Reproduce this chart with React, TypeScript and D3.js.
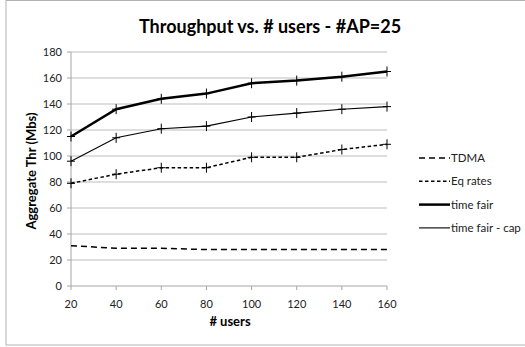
import React from "react";
import * as d3 from "d3";

const width = 525;
const height = 347;
const margin = { top: 52, left: 71, right: 138, bottom: 61 };

const users = [20, 40, 60, 80, 100, 120, 140, 160];
const yTicks = [0, 20, 40, 60, 80, 100, 120, 140, 160, 180];

const tdma = [31, 29, 29, 28, 28, 28, 28, 28];
const eqRates = [79, 86, 91, 91, 99, 99, 105, 109];
const timeFair = [115, 136, 144, 148, 156, 158, 161, 165];
const timeFairCap = [96, 114, 121, 123, 130, 133, 136, 138];

const series = [
  { name: "TDMA", values: tdma, width: 1.5, dash: "6 4", marks: false },
  { name: "Eq rates", values: eqRates, width: 1.5, dash: "3.5 2.5", marks: true },
  { name: "time fair", values: timeFair, width: 2.5, dash: null, marks: true },
  { name: "time fair - cap", values: timeFairCap, width: 1.1, dash: null, marks: true },
];

const font = "Lato, 'Open Sans', sans-serif";

export default function App() {
  const x = d3
    .scaleLinear()
    .domain([20, 160])
    .range([margin.left, width - margin.right]);
  const y = d3
    .scaleLinear()
    .domain([0, 180])
    .range([height - margin.bottom, margin.top]);

  const line = d3
    .line<number>()
    .x((d, i) => x(users[i]))
    .y((d) => y(d));

  return (
    <div style={{ position: "fixed", left: 0, top: 0 }}>
      <svg width={width} height={height} style={{ display: "block" }}>
        <rect x={0} y={0} width={width} height={height} fill="#fff" />
        <rect x={6} y={0.5} width={width + 10} height={344.5} fill="none" stroke="#b3b3b3" />
        <text
          x={270}
          y={33}
          textAnchor="middle"
          fontFamily={font}
          fontWeight="bold"
          fontSize={18}
        >
          Throughput vs. # users - #AP=25
        </text>

        {/* grid */}
        {yTicks.map((t) => (
          <g key={t}>
            {t > 0 && (
              <line x1={x(20)} x2={x(160)} y1={y(t)} y2={y(t)} stroke="#bdbdbd" strokeWidth={1} />
            )}
            <line x1={x(20) - 4} x2={x(20)} y1={y(t)} y2={y(t)} stroke="#a6a6a6" />
            <text
              x={x(20) - 9}
              y={y(t)}
              dy="0.35em"
              textAnchor="end"
              fontFamily={font}
              fontSize={11}
              fill="#222"
            >
              {t}
            </text>
          </g>
        ))}
        <line x1={x(20)} x2={x(20)} y1={y(180)} y2={y(0)} stroke="#a6a6a6" />
        <line x1={x(20)} x2={x(160)} y1={y(0)} y2={y(0)} stroke="#a6a6a6" />
        {users.map((u) => (
          <g key={u}>
            <line x1={x(u)} x2={x(u)} y1={y(0)} y2={y(0) + 4} stroke="#a6a6a6" />
            <text
              x={x(u)}
              y={308}
              textAnchor="middle"
              fontFamily={font}
              fontSize={11}
              fill="#222"
            >
              {u}
            </text>
          </g>
        ))}

        <text
          x={230}
          y={326}
          textAnchor="middle"
          fontFamily={font}
          fontWeight="bold"
          fontSize={13}
        >
          # users
        </text>
        <text
          transform={`translate(36 ${(y(0) + y(180)) / 2 + 2}) rotate(-90)`}
          textAnchor="middle"
          fontFamily={font}
          fontWeight="bold"
          fontSize={13}
        >
          Aggregate Thr (Mbs)
        </text>

        {/* series */}
        {series.map((s) => (
          <g key={s.name}>
            <path
              d={line(s.values) || ""}
              fill="none"
              stroke="#000"
              strokeWidth={s.width}
              strokeDasharray={s.dash || undefined}
            />
            {s.marks &&
              s.values.map((v, i) => (
                <path
                  key={i}
                  d={`M${x(users[i]) - 4},${y(v)}h8M${x(users[i])},${y(v) - 5}v10`}
                  stroke="#000"
                  strokeWidth={1}
                />
              ))}
          </g>
        ))}

        {/* legend */}
        {series.map((s, i) => {
          const ly = 158 + i * 23.3;
          return (
            <g key={s.name}>
              <line
                x1={419}
                x2={450}
                y1={ly}
                y2={ly}
                stroke="#000"
                strokeWidth={s.width}
                strokeDasharray={s.dash || undefined}
              />
              <text x={451} y={ly} dy="0.35em" fontFamily={font} fontSize={11.5} fill="#222">
                {s.name}
              </text>
            </g>
          );
        })}
      </svg>
    </div>
  );
}
